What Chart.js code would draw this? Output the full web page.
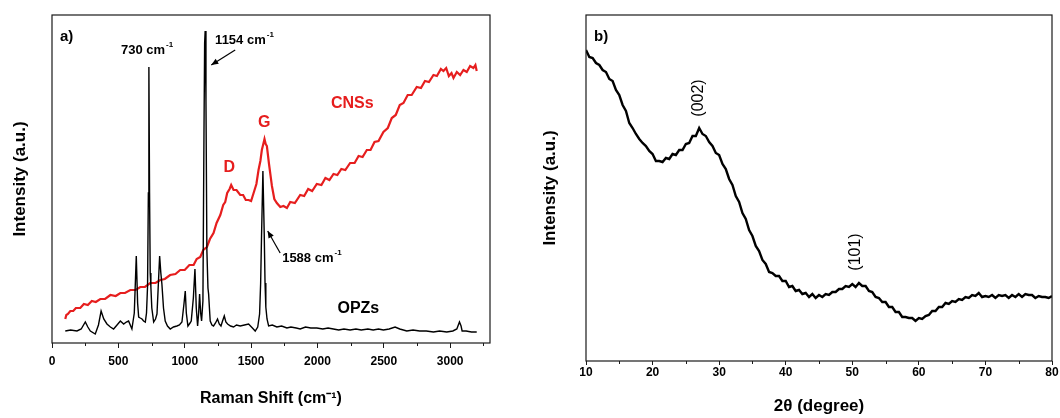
<!DOCTYPE html>
<html><head><meta charset="utf-8">
<script src="https://cdn.jsdelivr.net/npm/chart.js@4.4.0/dist/chart.umd.min.js"></script>
<style>
html,body{margin:0;padding:0;background:#fff;}
#wrap{position:relative;width:1060px;height:418px;overflow:hidden;}
.pane{position:absolute;top:0;width:530px;height:418px;}
#pa{left:0;} #pb{left:530px;}
</style></head><body>
<div id="wrap">
<div class="pane" id="pa"><canvas id="c1" width="530" height="418"></canvas></div>
<div class="pane" id="pb"><canvas id="c2" width="530" height="418"></canvas></div>
</div>
<script>
// ---------- Panel a) Raman ----------
const opzX = [100,140,188,220,251,270,289,326,350,370,390,414,440,464,490,515,540,560,577,602,620,635,645,653,665,678,690,703,712,720,726,730,735,740,745,752,766,780,791,800,811,820,828,840,853,870,891,915,941,960,979,995,1004,1012,1024,1040,1049,1065,1077,1087,1097,1105,1112,1120,1127,1137,1145,1150,1154,1160,1167,1175,1180,1186,1192,1205,1217,1232,1247,1260,1273,1285,1298,1310,1323,1345,1368,1390,1418,1450,1481,1510,1531,1550,1564,1572,1579,1589,1599,1605,1611,1620,1632,1660,1694,1730,1770,1800,1840,1870,1910,1950,1995,2040,2080,2120,2160,2200,2246,2290,2330,2380,2420,2460,2497,2540,2585,2620,2673,2720,2770,2820,2874,2920,2974,3020,3050,3070,3082,3090,3120,3160,3200];
const opzY = [12,13,12,14,21,16,12,9,18,32,24,19,16,14,18,22,19,21,22,14,30,87,40,26,25,24,22,21,30,57,150,276,150,70,56,35,21,24,29,55,87,70,59,35,22,17,14,16,17,18,21,40,52,30,17,20,22,45,74,35,17,30,49,30,22,42,209,300,312,242,92,55,49,35,22,18,17,20,24,19,17,22,27,21,19,17,16,18,17,18,19,15,12,16,29,60,109,172,109,60,36,24,17,18,16,17,15,16,15,14,16,15,15,14,15,14,13,14,13,14,13,14,13,14,13,14,16,14,12,13,12,12,11,12,11,12,14,21,17,12,12,11,11];
const cnsX = [100,108,120,138,160,180,213,240,270,300,330,364,400,440,480,515,550,590,630,665,700,740,780,816,850,890,930,966,1000,1035,1067,1090,1117,1140,1167,1190,1217,1240,1268,1290,1305,1320,1338,1350,1368,1390,1418,1440,1460,1481,1500,1519,1540,1556,1570,1581,1592,1601,1610,1619,1635,1657,1675,1694,1720,1744,1770,1795,1830,1870,1900,1930,1960,1995,2030,2060,2090,2121,2150,2180,2210,2246,2280,2310,2340,2372,2400,2430,2460,2497,2530,2560,2590,2620,2648,2680,2710,2748,2780,2810,2840,2874,2900,2930,2949,2970,2990,3010,3025,3050,3075,3100,3125,3150,3175,3190,3200];
const cnsY = [24,28,29,32,32,35,35,39,38,42,41,44,44,48,47,50,50,53,53,56,56,60,60,63,64,68,69,73,73,78,78,84,86,93,96,104,110,120,128,138,141,150,154,158,153,153,148,148,143,143,142,150,159,173,182,193,199,204,199,197,179,157,144,140,136,137,135,141,140,148,147,154,152,159,158,165,163,169,168,174,173,180,180,187,186,193,193,201,202,211,215,225,228,238,240,248,248,256,255,262,261,268,267,274,272,275,267,270,265,271,268,273,271,277,275,278,272];
const ramanTicks = [0,500,1000,1500,2000,2500,3000];
const ramanMinor = [250,750,1250,1750,2250,2750,3250];

// ---------- Panel b) XRD ----------
const xrdX = [10,10.5,11,11.5,12,12.5,13,13.5,14,14.5,15,15.5,16,16.5,17,17.5,18,18.5,19,19.5,20,20.5,21,21.5,22,22.5,23,23.5,24,24.5,25,25.5,26,26.5,27,27.5,28,28.5,29,29.5,30,30.5,31,31.5,32,32.5,33,33.5,34,34.5,35,35.5,36,36.5,37,37.5,38,38.5,39,39.5,40,40.5,41,41.5,42,42.5,43,43.5,44,44.5,45,45.5,46,46.5,47,47.5,48,48.5,49,49.5,50,50.5,51,51.5,52,52.5,53,53.5,54,54.5,55,55.5,56,56.5,57,57.5,58,58.5,59,59.5,60,60.5,61,61.5,62,62.5,63,63.5,64,64.5,65,65.5,66,66.5,67,67.5,68,68.5,69,69.5,70,70.5,71,71.5,72,72.5,73,73.5,74,74.5,75,75.5,76,76.5,77,77.5,78,78.5,79,79.5,80];
const xrdY = [309,302,301,296,294,289,287,280,278,269,264,254,248,236,231,225,220,216,213,208,205,198,198,197,201,200,205,204,209,209,215,216,223,223,231,225,223,217,213,206,204,195,190,180,174,163,157,146,140,129,123,113,108,99,95,87,86,83,83,78,78,72,73,68,69,65,66,62,65,61,64,62,65,64,67,67,70,70,73,72,75,72,76,73,73,68,67,62,61,57,57,52,52,47,47,42,42,41,41,38,41,40,43,44,48,48,52,52,56,55,58,57,60,59,62,61,64,63,66,62,63,62,64,61,64,63,64,61,64,62,65,62,65,64,64,61,63,62,62,61,63];
const xrdTicks = [10,20,30,40,50,60,70,80];
const xrdMinor = [15,25,35,45,55,65,75];

const FF = "'Liberation Sans', Arial, Helvetica, sans-serif";
const RED = '#e61e1e';
Chart.defaults.font.family = FF;
Chart.defaults.color = '#000';

function pts(xs, ys){ return xs.map((x,i)=>({x:x, y:ys[i]})); }

function drawArrow(ctx, x1, y1, x2, y2){
  ctx.beginPath(); ctx.moveTo(x1,y1); ctx.lineTo(x2,y2); ctx.stroke();
  const a = Math.atan2(y2-y1, x2-x1), L = 7, W = 3;
  ctx.beginPath();
  ctx.moveTo(x2, y2);
  ctx.lineTo(x2 - L*Math.cos(a) + W*Math.sin(a), y2 - L*Math.sin(a) - W*Math.cos(a));
  ctx.lineTo(x2 - L*Math.cos(a) - W*Math.sin(a), y2 - L*Math.sin(a) + W*Math.cos(a));
  ctx.closePath(); ctx.fill();
}
function supText(ctx, x, y, main, sup, size, align){
  const ss = Math.round(size*0.62);
  ctx.font = 'bold ' + size + 'px ' + FF;
  const w1 = ctx.measureText(main).width;
  ctx.font = 'bold ' + ss + 'px ' + FF;
  const w2 = ctx.measureText(sup).width;
  const x0 = align === 'center' ? x - (w1 + w2 + 1)/2 : x;
  ctx.textAlign = 'left'; ctx.textBaseline = 'middle';
  ctx.font = 'bold ' + size + 'px ' + FF; ctx.fillText(main, x0, y);
  ctx.font = 'bold ' + ss + 'px ' + FF; ctx.fillText(sup, x0 + w1 + 1, y - size*0.42);
}

function framePlugin(minor, notes){
  return {
    id: 'frame',
    afterDraw(chart){
      const ctx = chart.ctx, a = chart.chartArea, xs = chart.scales.x;
      ctx.save();
      ctx.strokeStyle = '#1a1a1a'; ctx.lineWidth = 1.2;
      ctx.strokeRect(a.left, a.top, a.right - a.left, a.bottom - a.top);
      ctx.lineWidth = 1;
      minor.forEach(v => {
        const px = Math.round(xs.getPixelForValue(v)) + 0.5;
        ctx.beginPath(); ctx.moveTo(px, a.bottom); ctx.lineTo(px, a.bottom + 3); ctx.stroke();
      });
      notes(chart, ctx);
      ctx.restore();
    }
  };
}

function baseOptions(o){
  return {
    responsive: false, animation: false, devicePixelRatio: 1,
    layout: { padding: o.pad },
    plugins: { legend: { display: false }, tooltip: { enabled: false } },
    scales: {
      x: {
        type: 'linear', min: o.xmin, max: o.xmax,
        afterBuildTicks: s => { s.ticks = o.ticks.map(v => ({ value: v })); },
        afterFit: s => { s.height = o.xh; },
        border: { display: false },
        grid: { drawOnChartArea: false, tickLength: o.tl, color: '#1a1a1a', lineWidth: 1 },
        ticks: { padding: o.tp, font: { size: 12, weight: 'bold' }, color: '#000', maxRotation: 0, autoSkip: false,
                 callback: v => String(v) },
        title: { display: true, text: o.xtitle, font: { size: o.xts, weight: 'bold' }, color: '#000', padding: { top: 0, bottom: o.xtb } }
      },
      y: {
        type: 'linear', min: o.ymin, max: o.ymax,
        afterFit: s => { s.width = o.yw; },
        border: { display: false },
        grid: { display: false },
        ticks: { display: false },
        title: { display: true, text: 'Intensity (a.u.)', font: { size: o.yts, weight: 'bold' }, color: '#000', padding: { top: o.ytp, bottom: 0 } }
      }
    }
  };
}

// Panel a
const optA = baseOptions({pad:{top:15,right:40,bottom:0,left:0}, xmin:0, xmax:3300, ticks:ramanTicks, xh:75, tl:5, tp:6,
  xtitle:'Raman Shift (cm\u207B\u00B9)', xts:16, xtb:10, ymin:0, ymax:328, yw:52, yts:17, ytp:10});
new Chart(document.getElementById('c1'), {
  type: 'line',
  data: { datasets: [
    { label: 'OPZs', data: pts(opzX, opzY), borderColor: '#000', borderWidth: 1.4, pointRadius: 0, tension: 0 },
    { label: 'CNSs', data: pts(cnsX, cnsY), borderColor: RED, borderWidth: 2.2, pointRadius: 0, tension: 0 }
  ]},
  options: optA,
  plugins: [framePlugin(ramanMinor, (chart, ctx) => {
    const X = v => chart.scales.x.getPixelForValue(v), Y = v => chart.scales.y.getPixelForValue(v);
    const a = chart.chartArea;
    ctx.fillStyle = '#000'; ctx.strokeStyle = '#000'; ctx.lineWidth = 1.2;
    ctx.font = 'bold 15px ' + FF; ctx.textAlign = 'left'; ctx.textBaseline = 'middle';
    ctx.fillText('a)', a.left + 8, a.top + 22);
    supText(ctx, X(716), Y(293), '730 cm', '-1', 13, 'center');
    supText(ctx, X(1229), Y(303), '1154 cm', '-1', 13, 'left');
    drawArrow(ctx, X(1380), Y(293), X(1200), Y(278));
    supText(ctx, X(1734), Y(85), '1588 cm', '-1', 13, 'left');
    drawArrow(ctx, X(1719), Y(90), X(1625), Y(112));
    ctx.font = 'bold 16px ' + FF; ctx.textAlign = 'center'; ctx.textBaseline = 'middle';
    ctx.fillText('OPZs', X(2308), Y(34));
    ctx.fillStyle = RED;
    ctx.fillText('D', X(1335), Y(175));
    ctx.fillText('G', X(1599), Y(220));
    ctx.fillText('CNSs', X(2262), Y(239));
  })]
});

// Panel b
const optB = baseOptions({pad:{top:15,right:8,bottom:0,left:0}, xmin:10, xmax:80, ticks:xrdTicks, xh:57, tl:4, tp:0,
  xtitle:'2\u03B8 (degree)', xts:17, xtb:1, ymin:-2, ymax:344, yw:56, yts:17, ytp:10});
new Chart(document.getElementById('c2'), {
  type: 'line',
  data: { datasets: [
    { label: 'XRD', data: pts(xrdX, xrdY), borderColor: '#000', borderWidth: 2.4, pointRadius: 0, tension: 0 }
  ]},
  options: optB,
  plugins: [framePlugin(xrdMinor, (chart, ctx) => {
    const X = v => chart.scales.x.getPixelForValue(v), Y = v => chart.scales.y.getPixelForValue(v);
    const a = chart.chartArea;
    ctx.fillStyle = '#000';
    ctx.font = 'bold 15px ' + FF; ctx.textAlign = 'left'; ctx.textBaseline = 'middle';
    ctx.fillText('b)', a.left + 8, a.top + 22);
    ctx.font = '16px ' + FF; ctx.textAlign = 'center';
    [['(002)', 26.9, 261], ['(101)', 50.5, 107]].forEach(n => {
      ctx.save(); ctx.translate(X(n[1]), Y(n[2])); ctx.rotate(-Math.PI/2);
      ctx.fillText(n[0], 0, 0); ctx.restore();
    });
  })]
});
</script>
</body></html>
